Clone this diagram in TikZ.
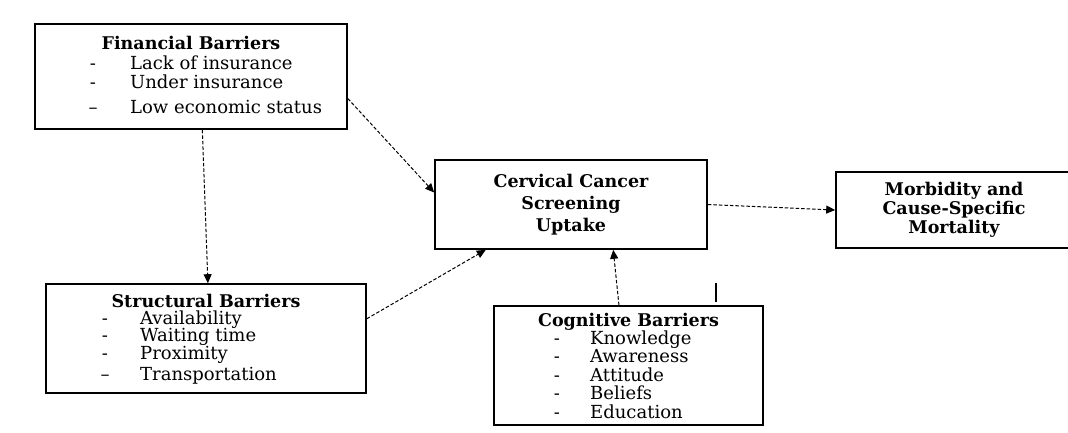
\documentclass[tikz,border=0pt]{standalone}
\usepackage{fontspec}
\setmainfont{DejaVu Serif}
\usetikzlibrary{arrows.meta}

\begin{document}
\begin{tikzpicture}[x=1pt, y=-1pt,
    box/.style={rectangle, draw, line width=1.6pt, inner sep=0pt},
    head/.style={font=\fontsize{17.5}{21}\selectfont\bfseries, inner sep=0pt,
      text height=11pt, text depth=3pt},
    item/.style={font=\fontsize{18}{19}\selectfont, anchor=west, inner sep=0pt,
      text height=11pt, text depth=3pt},
    hyph/.style={font=\fontsize{18}{19}\selectfont, inner sep=0pt,
      text height=11pt, text depth=3pt}]
  \useasboundingbox (0,0) rectangle (1068,433);

  % boxes
  \begin{scope}[every node/.style={box}]
    \node [minimum width=312pt, minimum height=105pt] (fin) at (191,76.5) {};
    \node [minimum width=320pt, minimum height=109pt] (str) at (206,338.5) {};
    \node [minimum width=269pt, minimum height=119pt] (cog) at (628.5,365.5) {};
    \node [minimum width=272pt, minimum height=89pt, align=center,
      font=\fontsize{17.5}{22}\selectfont\bfseries] (cer) at (571,204.5)
      {Cervical Cancer\\Screening\\Uptake};
    \node [minimum width=236pt, minimum height=76pt, align=center,
      font=\fontsize{17.5}{19}\selectfont\bfseries] (mor) at (954,210)
      {Morbidity and\\Cause-Specific\\Mortality};
  \end{scope}

  % titles
  \node [head] (fintitle) at (191,46) {Financial Barriers};
  \node [head] (strtitle) at (206,303) {Structural Barriers};
  \node [head] (cogtitle) at (628.5,322) {Cognitive Barriers};

  % lists
  \foreach \y/\d/\t [count=\i] in {66/-/Lack of insurance, 85/-/Under insurance,
      110/--/Low economic status} {
    \node [hyph] (finhyph\i) at (93,\y) {\d};
    \node [item] (finitem\i) at (130,\y) {\t};
  }
  \foreach \y/\d/\t [count=\i] in {320/-/Availability, 337/-/Waiting time,
      355/-/Proximity, 376/--/Transportation} {
    \node [hyph] (strhyph\i) at (105,\y) {\d};
    \node [item] (stritem\i) at (140,\y) {\t};
  }
  \foreach \y/\t [count=\i] in {340/Knowledge, 358/Awareness, 377/Attitude,
      395/Beliefs, 414/Education} {
    \node [hyph] (coghyph\i) at (557,\y) {-};
    \node [item] (cogitem\i) at (590,\y) {\t};
  }

  % links
  \begin{scope}[-{Triangle[length=9pt, width=8pt]}, dash pattern=on 3.5pt off 2pt,
      line width=1pt]
    \draw (fin.-8) to (cer.175);
    \draw (fin.-78) to (str.88);
    \draw (str.7) to (cer.208);
    \draw (cog.99) to (cer.-47);
    \draw (cer.east) to (mor.west);
  \end{scope}

  \draw [line width=1.2pt] (716,283) -- (716,302);
\end{tikzpicture}
\end{document}
